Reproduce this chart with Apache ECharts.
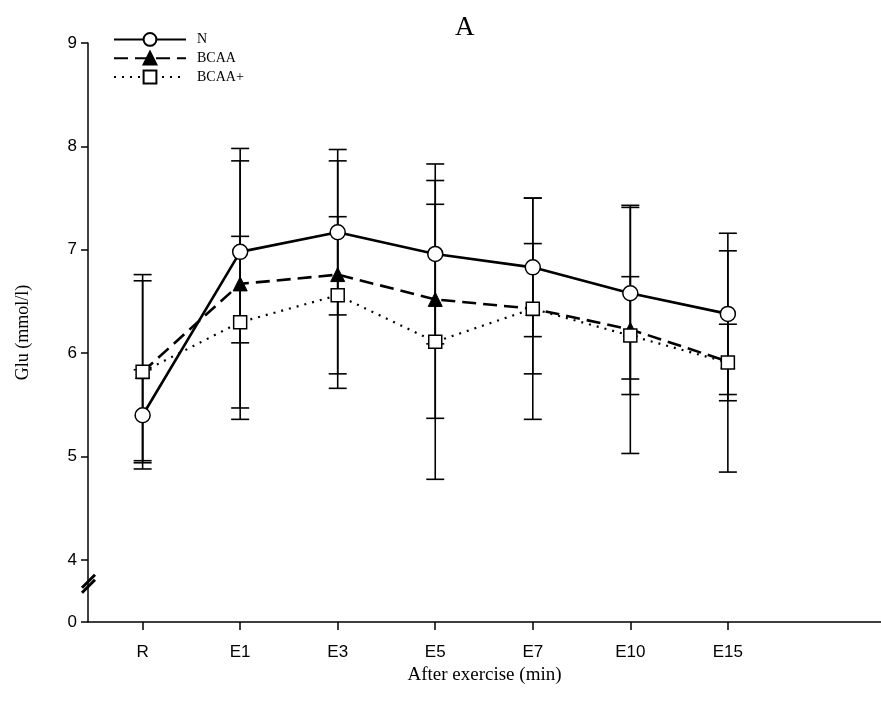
<!DOCTYPE html>
<html>
<head>
<meta charset="utf-8">
<script src="https://cdn.jsdelivr.net/npm/echarts@6/dist/echarts.min.js"></script>
<style>html,body{margin:0;padding:0;background:#fff;}#chart{width:881px;height:713px;}</style>
</head>
<body>
<div id="chart"></div>
<script>
const categories = ['R', 'E1', 'E3', 'E5', 'E7', 'E10', 'E15'];
const nMean = [5.40, 6.98, 7.17, 6.96, 6.83, 6.58, 6.38];
const nSD = [0.44, 0.88, 0.80, 0.87, 0.67, 0.83, 0.78];
const bcaaMean = [5.82, 6.67, 6.76, 6.52, 6.43, 6.23, 5.92];
const bcaaSD = [0.94, 1.31, 1.10, 1.15, 1.07, 1.20, 1.07];
const bcaaPlusMean = [5.82, 6.30, 6.56, 6.11, 6.43, 6.17, 5.91];
const bcaaPlusSD = [0.88, 0.83, 0.76, 1.33, 0.63, 0.57, 0.37];
const yTickValues = [3.4, 4, 5, 6, 7, 8, 9];
const yTickLabels = ['0', '4', '5', '6', '7', '8', '9'];
const xPositions = [1, 2, 3, 4, 5, 6, 7];

const serif = '"Liberation Serif", "Times New Roman", serif';
const sans = '"Liberation Sans", Arial, sans-serif';

function pts(means) { return means.map((m, i) => [xPositions[i], m]); }
function errData(means, sds) { return means.map((m, i) => [xPositions[i], m, sds[i]]); }

function renderErr(params, api) {
  const x = api.value(0), m = api.value(1), s = api.value(2);
  const top = api.coord([x, m + s]);
  const bot = api.coord([x, m - s]);
  const w = 9;
  const st = { stroke: '#000', lineWidth: 1.6 };
  return {
    type: 'group',
    children: [
      { type: 'line', shape: { x1: top[0], y1: top[1], x2: bot[0], y2: bot[1] }, style: st },
      { type: 'line', shape: { x1: top[0] - w, y1: top[1], x2: top[0] + w, y2: top[1] }, style: st },
      { type: 'line', shape: { x1: bot[0] - w, y1: bot[1], x2: bot[0] + w, y2: bot[1] }, style: st }
    ]
  };
}

function renderBreak(params, api) {
  const c = api.coord([api.value(0), api.value(1)]);
  const st = { stroke: '#000', lineWidth: 3 };
  return {
    type: 'group',
    children: [
      { type: 'line', shape: { x1: c[0] - 6, y1: c[1] + 5, x2: c[0] + 7, y2: c[1] - 8 }, style: st },
      { type: 'line', shape: { x1: c[0] - 6, y1: c[1] + 10, x2: c[0] + 7, y2: c[1] - 3 }, style: st }
    ]
  };
}

const xMin = 0.44, xMax = 8.57;

const chart = echarts.init(document.getElementById('chart'), null, { renderer: 'canvas' });
chart.setOption({
  animation: false,
  backgroundColor: '#fff',
  title: {
    text: 'A', left: 450, top: 9,
    textStyle: { fontFamily: serif, fontSize: 27, fontWeight: 'normal', color: '#000' }
  },
  legend: {
    data: ['N', 'BCAA', 'BCAA+'],
    orient: 'vertical', left: 108, top: 27,
    itemWidth: 72, itemHeight: 16, itemGap: 4,
    textStyle: { fontFamily: serif, fontSize: 14, color: '#000', padding: [0, 0, 0, 6] }
  },
  grid: { left: 88, right: 0, top: 43, bottom: 91, containLabel: false },
  xAxis: {
    type: 'value', min: xMin, max: xMax,
    name: 'After exercise (min)', nameLocation: 'middle', nameGap: 42,
    nameTextStyle: { fontFamily: serif, fontSize: 19, color: '#000' },
    axisLine: { show: true, onZero: false, lineStyle: { color: '#000', width: 1.5 } },
    axisTick: { show: true, customValues: xPositions, length: 8, lineStyle: { color: '#000', width: 1.5 } },
    axisLabel: {
      customValues: xPositions, margin: 22,
      formatter: v => categories[Math.round(v) - 1],
      fontFamily: sans, fontSize: 17, color: '#000'
    },
    splitLine: { show: false }
  },
  yAxis: {
    type: 'value', min: 3.4, max: 9,
    name: 'Glu (mmol/l)', nameLocation: 'middle', nameGap: 56,
    nameTextStyle: { fontFamily: serif, fontSize: 18, color: '#000' },
    axisLine: { show: true, onZero: false, lineStyle: { color: '#000', width: 1.5 } },
    axisTick: { show: true, customValues: yTickValues, length: 7, lineStyle: { color: '#000', width: 1.5 } },
    axisLabel: {
      customValues: yTickValues, margin: 11,
      formatter: v => yTickLabels[yTickValues.findIndex(t => Math.abs(t - v) < 1e-6)],
      fontFamily: sans, fontSize: 17, color: '#000'
    },
    splitLine: { show: false }
  },
  series: [
    { name: 'errN', type: 'custom', renderItem: renderErr, data: errData(nMean, nSD), z: 1, silent: true },
    { name: 'errB', type: 'custom', renderItem: renderErr, data: errData(bcaaMean, bcaaSD), z: 1, silent: true },
    { name: 'errBP', type: 'custom', renderItem: renderErr, data: errData(bcaaPlusMean, bcaaPlusSD), z: 1, silent: true },
    { name: 'break', type: 'custom', renderItem: renderBreak, data: [[xMin, 3.78]], z: 5, silent: true, clip: false },
    {
      name: 'N', type: 'line', data: pts(nMean), z: 3,
      symbol: 'circle', symbolSize: 15,
      lineStyle: { color: '#000', width: 2.6, type: 'solid' },
      itemStyle: { color: '#fff', borderColor: '#000', borderWidth: 1.5 }
    },
    {
      name: 'BCAA', type: 'line', data: pts(bcaaMean), z: 3,
      symbol: 'triangle', symbolSize: 14,
      lineStyle: { color: '#000', width: 2.6, type: [14, 7] },
      itemStyle: { color: '#000', borderColor: '#000', borderWidth: 1 }
    },
    {
      name: 'BCAA+', type: 'line', data: pts(bcaaPlusMean), z: 3,
      symbol: 'rect', symbolSize: 13,
      lineStyle: { color: '#000', width: 2.2, type: [2, 6] },
      itemStyle: { color: '#fff', borderColor: '#000', borderWidth: 1.5 }
    }
  ]
});
</script>
</body>
</html>
